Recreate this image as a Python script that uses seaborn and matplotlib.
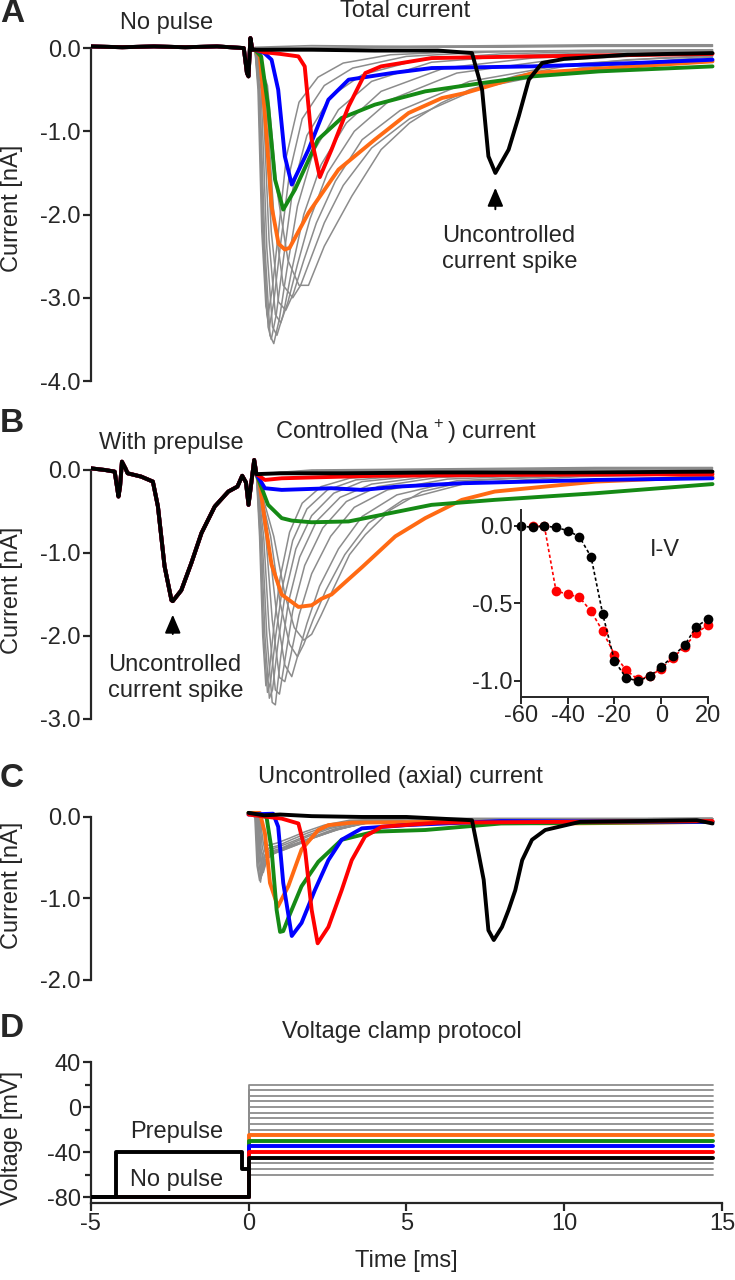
import seaborn as sns
import matplotlib.pyplot as plt
from matplotlib.ticker import FormatStrFormatter

# ---- colours ----
ORANGE = "#ff6a13"
GREEN = "#158a15"
BLUE = "#0000ff"
RED = "#ff0000"
GRAY = "#8c8c8c"
BLACK = "#000000"

# ---- panel A : total current (no prepulse) ----
pre_a_t = [-5.0, -4.0, -3.0, -2.0, -1.0, -0.15, -0.05, 0.0, 0.06, 0.12, 0.2]
pre_a_i = [0.02, 0.01, 0.02, 0.01, 0.02, 0.0, -0.3, -0.34, 0.12, -0.02, -0.02]

gray_a = [
    ([0.2, 0.3, 0.42, 0.55, 0.62, 0.75, 0.95, 1.2, 1.6, 2.2, 3.0, 4.5, 7.0, 10.0, 14.7],
     [0.0, -0.5, -2.2, -3.1, -3.2, -2.9, -2.2, -1.3, -0.65, -0.35, -0.18, -0.08, -0.04, -0.03, -0.02]),
    ([0.2, 0.32, 0.45, 0.58, 0.66, 0.8, 1.0, 1.3, 1.7, 2.4, 3.3, 5.0, 7.5, 10.5, 14.7],
     [0.0, -0.5, -2.2, -3.2, -3.35, -3.05, -2.4, -1.5, -0.85, -0.45, -0.24, -0.1, -0.05, -0.03, -0.02]),
    ([0.2, 0.34, 0.48, 0.62, 0.72, 0.88, 1.1, 1.4, 1.85, 2.6, 3.6, 5.4, 8.0, 11.0, 14.7],
     [0.0, -0.5, -2.3, -3.35, -3.5, -3.2, -2.55, -1.7, -1.05, -0.58, -0.32, -0.14, -0.07, -0.04, -0.03]),
    ([0.2, 0.36, 0.52, 0.68, 0.8, 0.98, 1.22, 1.55, 2.05, 2.85, 3.9, 5.8, 8.5, 11.5, 14.7],
     [0.0, -0.5, -2.4, -3.45, -3.55, -3.25, -2.65, -1.9, -1.25, -0.74, -0.4, -0.17, -0.09, -0.05, -0.03]),
    ([0.2, 0.4, 0.58, 0.76, 0.9, 1.1, 1.38, 1.75, 2.3, 3.1, 4.2, 6.2, 9.0, 12.0, 14.7],
     [0.0, -0.5, -2.4, -3.35, -3.45, -3.2, -2.65, -2.0, -1.4, -0.9, -0.52, -0.24, -0.12, -0.07, -0.05]),
    ([0.2, 0.45, 0.65, 0.85, 1.02, 1.25, 1.55, 1.95, 2.5, 3.35, 4.5, 6.6, 9.5, 12.5, 14.7],
     [0.0, -0.5, -2.3, -3.2, -3.3, -3.05, -2.6, -2.05, -1.5, -1.0, -0.62, -0.3, -0.15, -0.09, -0.06]),
    ([0.2, 0.5, 0.72, 0.95, 1.18, 1.42, 1.75, 2.15, 2.75, 3.6, 4.8, 7.0, 10.0, 13.0, 14.7],
     [0.0, -0.5, -2.2, -3.05, -3.15, -2.95, -2.55, -2.1, -1.6, -1.1, -0.75, -0.4, -0.2, -0.12, -0.09]),
    ([0.2, 0.55, 0.8, 1.1, 1.4, 1.65, 2.0, 2.4, 3.0, 3.9, 5.1, 7.3, 10.5, 13.5, 14.7],
     [0.0, -0.5, -2.0, -2.85, -3.0, -2.85, -2.5, -2.1, -1.65, -1.2, -0.85, -0.48, -0.24, -0.14, -0.11]),
    ([0.2, 0.6, 0.9, 1.25, 1.6, 1.9, 2.4, 3.27, 4.2, 5.1, 6.1, 7.0, 8.5, 10.0, 12.0, 14.7],
     [0.0, -0.45, -1.7, -2.55, -2.85, -2.85, -2.38, -1.78, -1.22, -0.9, -0.66, -0.5, -0.33, -0.22, -0.14, -0.1]),
]
flat_t = [0.2, 2.0, 5.0, 8.0, 11.0, 14.7]
flat_a = [[0.01, 0.03, 0.02, 0.03, 0.04, 0.04],
          [0.0, 0.01, 0.02, 0.02, 0.03, 0.03],
          [-0.01, 0.0, 0.01, 0.01, 0.02, 0.02]]

orange_a_t = [0.2, 0.36, 0.52, 0.73, 0.95, 1.15, 1.3, 1.9, 2.85, 4.0, 5.07, 6.13, 6.86, 9.0, 12.2, 14.7]
orange_a_i = [-0.02, -0.1, -0.8, -1.9, -2.35, -2.42, -2.4, -1.98, -1.46, -1.1, -0.78, -0.6, -0.54, -0.3, -0.22, -0.16]
green_a_t = [0.2, 0.4, 0.62, 0.84, 1.1, 1.47, 2.2, 2.95, 4.0, 5.6, 7.4, 9.0, 11.1, 14.7]
green_a_i = [-0.02, -0.1, -0.7, -1.58, -1.94, -1.7, -1.1, -0.84, -0.68, -0.52, -0.42, -0.34, -0.28, -0.22]
blue_a_t = [0.2, 0.5, 0.73, 0.94, 1.15, 1.37, 1.9, 2.53, 3.17, 4.54, 5.8, 9.0, 12.2, 14.7]
blue_a_i = [-0.02, -0.06, -0.14, -0.5, -1.3, -1.64, -1.22, -0.62, -0.38, -0.3, -0.24, -0.22, -0.18, -0.14]
red_a_t = [0.2, 0.5, 1.0, 1.58, 1.78, 2.0, 2.26, 2.63, 3.17, 3.7, 4.2, 5.8, 9.0, 14.7]
red_a_i = [-0.02, -0.05, -0.07, -0.1, -0.22, -1.1, -1.55, -1.22, -0.7, -0.3, -0.22, -0.12, -0.1, -0.07]
black_a_t = [0.2, 2.0, 4.0, 6.0, 7.08, 7.4, 7.6, 7.82, 8.24, 8.56, 8.88, 9.3, 10.0, 12.0, 14.7]
black_a_i = [-0.02, -0.02, -0.03, -0.03, -0.06, -0.5, -1.3, -1.5, -1.22, -0.82, -0.38, -0.18, -0.13, -0.08, -0.06]

# ---- panel B : controlled (Na+) current, with prepulse ----
pre_b_t = [-5.0, -4.55, -4.24, -4.12, -4.07, -4.01, -3.9, -3.83, -3.4, -3.03, -2.87, -2.66,
           -2.44, -2.4, -2.13, -1.81, -1.49, -1.07, -0.64, -0.35, -0.2, -0.08, 0.0, 0.18, 0.25]
pre_b_i = [0.02, 0.0, -0.02, -0.32, -0.2, 0.1, 0.02, -0.04, -0.08, -0.14, -0.44, -1.16,
           -1.57, -1.58, -1.45, -1.12, -0.76, -0.44, -0.26, -0.2, -0.07, -0.15, -0.42, 0.12, -0.05]

gray_b = [
    ([0.25, 0.35, 0.45, 0.55, 0.65, 0.8, 1.0, 1.3, 1.7, 2.3, 3.2, 5.0, 8.0, 14.7],
     [-0.05, -0.8, -2.0, -2.6, -2.45, -1.9, -1.3, -0.75, -0.4, -0.2, -0.1, -0.05, -0.03, -0.02]),
    ([0.25, 0.37, 0.48, 0.6, 0.7, 0.86, 1.08, 1.4, 1.85, 2.5, 3.4, 5.2, 8.2, 14.7],
     [-0.05, -0.8, -2.0, -2.68, -2.55, -2.0, -1.4, -0.85, -0.47, -0.24, -0.12, -0.06, -0.03, -0.02]),
    ([0.25, 0.4, 0.52, 0.66, 0.76, 0.93, 1.16, 1.5, 2.0, 2.7, 3.6, 5.4, 8.4, 14.7],
     [-0.05, -0.8, -2.0, -2.75, -2.65, -2.1, -1.5, -0.95, -0.55, -0.28, -0.14, -0.07, -0.04, -0.02]),
    ([0.25, 0.43, 0.58, 0.75, 0.85, 1.02, 1.26, 1.62, 2.15, 2.9, 3.9, 5.7, 8.7, 14.7],
     [-0.05, -0.8, -2.0, -2.8, -2.83, -2.25, -1.6, -1.05, -0.62, -0.33, -0.17, -0.08, -0.04, -0.03]),
    ([0.25, 0.48, 0.65, 0.85, 0.98, 1.15, 1.4, 1.78, 2.35, 3.1, 4.1, 6.0, 9.0, 14.7],
     [-0.05, -0.8, -1.9, -2.65, -2.7, -2.3, -1.7, -1.15, -0.7, -0.38, -0.2, -0.09, -0.05, -0.03]),
    ([0.25, 0.55, 0.75, 0.98, 1.15, 1.33, 1.6, 2.0, 2.6, 3.35, 4.4, 6.3, 9.5, 14.7],
     [-0.05, -0.8, -1.8, -2.5, -2.55, -2.25, -1.75, -1.25, -0.8, -0.45, -0.24, -0.11, -0.06, -0.04]),
    ([0.25, 0.62, 0.88, 1.15, 1.37, 1.55, 1.85, 2.25, 2.85, 3.6, 4.7, 6.6, 10.0, 14.7],
     [-0.05, -0.8, -1.7, -2.35, -2.49, -2.25, -1.85, -1.4, -0.95, -0.56, -0.3, -0.13, -0.07, -0.04]),
    ([0.25, 0.7, 1.0, 1.3, 1.55, 1.75, 2.05, 2.45, 3.05, 3.8, 4.9, 6.9, 10.5, 14.7],
     [-0.05, -0.8, -1.6, -2.1, -2.25, -2.1, -1.8, -1.45, -1.02, -0.64, -0.36, -0.16, -0.08, -0.05]),
    ([0.25, 0.8, 1.15, 1.45, 1.75, 2.0, 2.3, 2.7, 3.2, 3.7, 4.5, 5.5, 7.0, 10.0, 14.7],
     [-0.05, -0.8, -1.5, -1.9, -2.05, -1.98, -1.75, -1.42, -1.02, -0.78, -0.48, -0.26, -0.13, -0.07, -0.05]),
]
flat_b = [[-0.05, 0.0, 0.01, 0.02, 0.03, 0.03],
          [-0.05, -0.01, 0.0, 0.01, 0.02, 0.02],
          [-0.05, -0.02, -0.01, 0.0, 0.01, 0.01]]

orange_b_t = [0.25, 0.36, 0.52, 0.73, 1.05, 1.58, 2.0, 2.32, 2.63, 3.6, 4.65, 5.6, 6.76, 7.8, 11.0, 14.7]
orange_b_i = [-0.05, -0.18, -0.62, -1.14, -1.5, -1.65, -1.63, -1.55, -1.5, -1.17, -0.8, -0.58, -0.36, -0.26, -0.14, -0.08]
green_b_t = [0.25, 0.4, 0.62, 1.05, 1.37, 2.0, 3.17, 3.7, 4.75, 5.8, 7.8, 11.0, 14.7]
green_b_i = [-0.05, -0.2, -0.42, -0.58, -0.61, -0.63, -0.62, -0.58, -0.5, -0.42, -0.36, -0.28, -0.17]
blue_b_t = [0.25, 0.52, 1.05, 2.63, 3.6, 4.75, 6.76, 11.0, 14.7]
blue_b_i = [-0.05, -0.22, -0.24, -0.22, -0.24, -0.2, -0.16, -0.12, -0.1]
red_b_t = [0.25, 0.52, 1.05, 2.0, 4.0, 8.0, 14.7]
red_b_i = [-0.05, -0.12, -0.1, -0.09, -0.07, -0.06, -0.05]
black_b_t = [0.25, 1.0, 3.0, 6.0, 10.0, 14.7]
black_b_i = [-0.05, -0.04, -0.04, -0.03, -0.03, -0.02]

# ---- inset: normalised I-V ----
iv_v = [-60, -55, -50, -45, -40, -35, -30, -25, -20, -15, -10, -5, 0, 5, 10, 15, 20]
iv_black = [0.0, -0.01, 0.0, -0.01, -0.03, -0.07, -0.2, -0.57, -0.87, -0.98, -1.0, -0.97, -0.91, -0.84, -0.77, -0.65, -0.6]
iv_red_v = iv_v[1:]
iv_red = [0.0, 0.0, -0.42, -0.44, -0.46, -0.55, -0.68, -0.83, -0.93, -0.99, -0.97, -0.92, -0.85, -0.78, -0.69, -0.64]

# ---- panel C : uncontrolled (axial) current ----
gray_c = [
    ([0.0, 0.2, 0.27, 0.35, 0.45, 0.6, 0.9, 1.3, 1.8, 2.4, 3.2, 5.0, 14.7],
     [0.03, 0.0, -0.6, -0.78, -0.45, -0.35, -0.32, -0.26, -0.18, -0.1, -0.04, -0.02, -0.02]),
    ([0.0, 0.22, 0.3, 0.38, 0.48, 0.65, 0.95, 1.35, 1.85, 2.5, 3.3, 5.0, 14.7],
     [0.03, 0.0, -0.6, -0.8, -0.5, -0.38, -0.35, -0.28, -0.2, -0.11, -0.05, -0.02, -0.02]),
    ([0.0, 0.24, 0.32, 0.4, 0.5, 0.7, 1.0, 1.4, 1.9, 2.55, 3.4, 5.0, 14.7],
     [0.03, 0.0, -0.55, -0.75, -0.48, -0.4, -0.36, -0.3, -0.22, -0.13, -0.06, -0.02, -0.02]),
    ([0.0, 0.26, 0.34, 0.42, 0.52, 0.72, 1.05, 1.45, 1.95, 2.6, 3.45, 5.0, 14.7],
     [0.03, 0.0, -0.5, -0.72, -0.5, -0.42, -0.38, -0.31, -0.23, -0.14, -0.07, -0.03, -0.02]),
    ([0.0, 0.28, 0.36, 0.44, 0.55, 0.75, 1.1, 1.5, 2.0, 2.7, 3.5, 5.0, 14.7],
     [0.03, 0.0, -0.45, -0.7, -0.52, -0.44, -0.4, -0.33, -0.25, -0.15, -0.08, -0.03, -0.02]),
    ([0.0, 0.3, 0.38, 0.47, 0.58, 0.8, 1.15, 1.55, 2.05, 2.75, 3.6, 5.0, 14.7],
     [0.03, 0.0, -0.45, -0.68, -0.52, -0.45, -0.4, -0.34, -0.26, -0.16, -0.08, -0.03, -0.02]),
    ([0.0, 0.32, 0.4, 0.5, 0.62, 0.85, 1.2, 1.6, 2.1, 2.8, 3.6, 5.0, 14.7],
     [0.03, 0.0, -0.4, -0.62, -0.5, -0.44, -0.39, -0.33, -0.25, -0.16, -0.08, -0.03, -0.02]),
    ([0.0, 0.34, 0.43, 0.53, 0.66, 0.9, 1.25, 1.65, 2.15, 2.85, 3.7, 5.0, 14.7],
     [0.03, 0.0, -0.35, -0.55, -0.48, -0.42, -0.37, -0.31, -0.24, -0.15, -0.08, -0.03, -0.02]),
    ([0.0, 0.36, 0.46, 0.56, 0.7, 0.95, 1.3, 1.7, 2.2, 2.9, 3.8, 5.0, 14.7],
     [0.03, 0.0, -0.3, -0.48, -0.45, -0.4, -0.35, -0.3, -0.23, -0.14, -0.07, -0.03, -0.02]),
]
orange_c_t = [0.0, 0.36, 0.52, 0.68, 0.93, 1.26, 1.68, 2.21, 2.53, 3.27, 6.0, 10.0, 14.7]
orange_c_i = [0.05, 0.05, -0.2, -0.81, -1.1, -0.85, -0.4, -0.16, -0.1, -0.07, -0.06, -0.08, -0.06]
green_c_t = [0.0, 0.57, 0.73, 0.89, 1.0, 1.1, 1.26, 1.68, 2.21, 2.95, 4.0, 5.6, 8.0, 14.7]
green_c_i = [0.05, 0.0, -0.4, -1.14, -1.41, -1.4, -1.24, -0.85, -0.55, -0.28, -0.18, -0.16, -0.08, -0.06]
blue_c_t = [0.0, 0.78, 0.94, 1.1, 1.37, 1.68, 2.1, 2.53, 2.95, 3.59, 5.0, 8.0, 14.7]
blue_c_i = [0.03, 0.04, -0.12, -0.81, -1.46, -1.3, -0.9, -0.53, -0.28, -0.14, -0.1, -0.05, -0.06]
red_c_t = [0.0, 1.05, 1.58, 1.79, 2.0, 2.19, 2.53, 2.95, 3.27, 3.69, 4.22, 6.0, 10.0, 14.7]
red_c_i = [0.03, -0.02, -0.08, -0.4, -1.14, -1.55, -1.35, -0.9, -0.53, -0.24, -0.12, -0.07, -0.06, -0.05]
black_c_t = [0.0, 0.5, 1.0, 2.0, 3.59, 5.0, 7.08, 7.29, 7.45, 7.6, 7.77, 8.03, 8.24, 8.45, 8.67, 8.98, 9.4, 10.5, 14.2, 14.7]
black_c_i = [0.05, 0.02, 0.03, 0.01, 0.0, 0.0, -0.04, -0.45, -0.77, -1.39, -1.51, -1.35, -1.14, -0.9, -0.53, -0.28, -0.16, -0.06, -0.04, -0.08]

# ---- panel D : voltage clamp protocol ----
step_gray = [20, 15, 10, 5, 0, -5, -10, -15, -20, -50, -55, -60]
step_col = [-25, -30, -35, -40, -45]
col_names = [ORANGE, GREEN, BLUE, RED, BLACK]
hold_v = -80
t_start, t_step, t_end = -5.0, 0.0, 14.7
prep_t = [-5.0, -4.2, -4.2, -0.2, -0.2, 0.0]
prep_v = [-80, -80, -40, -40, -55, -55]


sns.set_style("ticks")
plt.rcParams["font.family"] = ["Liberation Sans", "DejaVu Sans"]
plt.rcParams["axes.unicode_minus"] = False
plt.rcParams["mathtext.fontset"] = "custom"
plt.rcParams["mathtext.rm"] = "Liberation Sans"

FS = 17
TS = 17


def trace(ax, t, y, color, lw, z=2):
    sns.lineplot(x=t, y=y, color=color, lw=lw, estimator=None, sort=False, ax=ax, zorder=z)


def style(ax, ylo, yhi, bounds, ticks):
    ax.set_xlim(-5, 15)
    ax.set_ylim(ylo, yhi)
    sns.despine(ax=ax, bottom=True)
    ax.spines["left"].set_bounds(*bounds)
    ax.spines["left"].set_linewidth(1.6)
    ax.tick_params(axis="x", bottom=False, labelbottom=False)
    ax.tick_params(axis="y", direction="out", length=6, width=1.6, labelsize=TS, pad=1)
    ax.set_yticks(ticks)
    ax.yaxis.set_major_formatter(FormatStrFormatter("%.1f"))


fig = plt.figure(figsize=(7.35, 12.8), dpi=100)
L, W = 0.1234, 0.8589
axA = fig.add_axes([L, 0.7023, W, 0.2699])
axB = fig.add_axes([L, 0.4383, W, 0.2075])
axC = fig.add_axes([L, 0.2344, W, 0.1369])
axD = fig.add_axes([L, 0.0600, W, 0.1103])
axI = fig.add_axes([0.7088, 0.4555, 0.2544, 0.1461])

ARROW = dict(arrowstyle="-|>,head_length=0.7,head_width=0.3", color="black", lw=1.4, mutation_scale=16)

# A
for t, i in gray_a:
    trace(axA, pre_a_t + t, pre_a_i + i, GRAY, 1.1, 1)
for f in flat_a:
    trace(axA, pre_a_t + flat_t, pre_a_i + f, GRAY, 1.1, 1)
for (t, i), c in zip([(orange_a_t, orange_a_i), (green_a_t, green_a_i), (blue_a_t, blue_a_i),
                      (red_a_t, red_a_i), (black_a_t, black_a_i)], col_names):
    trace(axA, pre_a_t + t, pre_a_i + i, c, 2.8, 3)
style(axA, -4.0, 0.15, (-4.0, 0.0), [0, -1, -2, -3, -4])
axA.text(-2.6, 0.3, "No pulse", ha="center", va="center", fontsize=FS)
axA.text(4.97, 0.44, "Total current", ha="center", va="center", fontsize=FS)
axA.annotate("", xy=(7.82, -1.645), xytext=(7.82, -1.97), arrowprops=ARROW)
axA.text(6.14, -2.12, "Uncontrolled\ncurrent spike", ha="left", va="top", fontsize=FS, linespacing=1.25)

# B
for t, i in gray_b:
    trace(axB, pre_b_t + t, pre_b_i + i, GRAY, 1.1, 1)
for f in flat_b:
    trace(axB, pre_b_t + flat_t, pre_b_i + f, GRAY, 1.1, 1)
for (t, i), c in zip([(orange_b_t, orange_b_i), (green_b_t, green_b_i), (blue_b_t, blue_b_i),
                      (red_b_t, red_b_i), (black_b_t, black_b_i)], col_names):
    trace(axB, pre_b_t + t, pre_b_i + i, c, 2.8, 3)
style(axB, -3.0, 0.2, (-3.0, 0.0), [0, -1, -2, -3])
axB.text(-2.45, 0.325, "With prepulse", ha="center", va="center", fontsize=FS)
axB.text(5.0, 0.46, "Controlled (Na$^{\\,+}$) current", ha="center", va="center", fontsize=FS)
axB.annotate("", xy=(-2.4, -1.71), xytext=(-2.4, -2.01), arrowprops=ARROW)
axB.text(-4.45, -2.22, "Uncontrolled\ncurrent spike", ha="left", va="top", fontsize=FS, linespacing=1.25)

# inset I-V
sns.lineplot(x=iv_red_v, y=iv_red, color=RED, lw=1.2, linestyle=(0, (2, 1.5)), marker="o", markersize=7,
             markeredgewidth=0, estimator=None, sort=False, ax=axI, clip_on=False)
sns.lineplot(x=iv_v, y=iv_black, color=BLACK, lw=1.2, linestyle=(0, (2, 1.5)), marker="o", markersize=7,
             markeredgewidth=0, estimator=None, sort=False, ax=axI, clip_on=False)
axI.set_xlim(-60, 20)
axI.set_ylim(-1.103, 0.103)
sns.despine(ax=axI)
axI.patch.set_alpha(0)
axI.set_xticks([-60, -40, -20, 0, 20])
axI.set_yticks([0.0, -0.5, -1.0])
axI.yaxis.set_major_formatter(FormatStrFormatter("%.1f"))
for s in ["left", "bottom"]:
    axI.spines[s].set_linewidth(1.4)
axI.tick_params(direction="out", length=5, width=1.4, labelsize=TS, pad=1)
axI.text(1.5, -0.155, "I-V", ha="center", va="center", fontsize=FS)

# C
for t, i in gray_c:
    trace(axC, t, i, GRAY, 1.1, 1)
for (t, i), c in zip([(orange_c_t, orange_c_i), (green_c_t, green_c_i), (blue_c_t, blue_c_i),
                      (red_c_t, red_c_i), (black_c_t, black_c_i)], col_names):
    trace(axC, t, i, c, 2.8, 3)
style(axC, -2.0, 0.15, (-2.0, 0.0), [0, -1, -2])
axC.text(4.82, 0.49, "Uncontrolled (axial) current", ha="center", va="center", fontsize=FS)

# D
for v in step_gray:
    trace(axD, [t_start, t_step, t_step, t_end], [hold_v, hold_v, v, v], GRAY, 1.3, 1)
for v, c in zip(step_col, col_names):
    trace(axD, [t_start, t_step, t_step, t_end], [hold_v, hold_v, v, v], c, 2.8, 3)
trace(axD, prep_t, prep_v, BLACK, 2.8, 4)
axD.set_xlim(-5, 15)
axD.set_ylim(-85.5, 40)
sns.despine(ax=axD)
for s in ["left", "bottom"]:
    axD.spines[s].set_linewidth(1.6)
axD.set_xticks([-5, 0, 5, 10, 15])
axD.set_yticks([40, 0, -40, -80])
axD.set_yticks([20, -20, -60], minor=True)
axD.tick_params(which="major", direction="out", length=6, width=1.6, labelsize=TS, pad=1)
axD.tick_params(which="minor", direction="out", length=4, width=1.6)
axD.text(4.87, 67, "Voltage clamp protocol", ha="center", va="center", fontsize=FS)
axD.text(-2.28, -22.5, "Prepulse", ha="center", va="center", fontsize=FS)
axD.text(-2.28, -65, "No pulse", ha="center", va="center", fontsize=FS)
axD.set_xlabel("Time [ms]", fontsize=FS)
axD.xaxis.set_label_coords(0.5, -0.335)

for ax, yl, yc in [(axA, "Current [nA]", 0.5), (axB, "Current [nA]", 0.486),
                   (axC, "Current [nA]", 0.54), (axD, "Voltage [mV]", 0.46)]:
    ax.set_ylabel(yl, fontsize=FS)
    ax.yaxis.set_label_coords(-0.107, yc)

for letter, ypx in [("A", 22), ("B", 432), ("C", 787), ("D", 1037)]:
    fig.text(0.0, 1 - ypx / 1280, letter, fontsize=24, fontweight="bold", va="baseline", ha="left")

plt.savefig("out.png", dpi=100)
